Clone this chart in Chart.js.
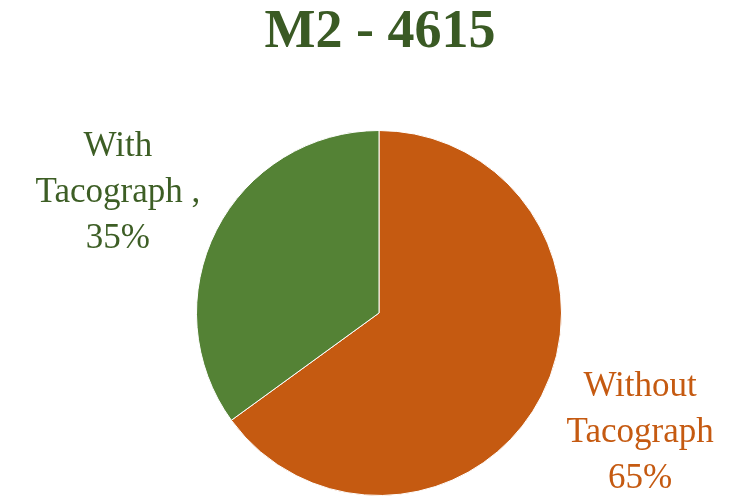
<!DOCTYPE html>
<html>
<head>
<meta charset="utf-8">
<script src="https://cdn.jsdelivr.net/npm/chart.js@4.4.0/dist/chart.umd.min.js"></script>
<style>
  html, body { margin: 0; padding: 0; background: #fff; }
  #wrap { width: 742px; height: 502px; }
</style>
</head>
<body>
<div id="wrap"><canvas id="myChart" width="742" height="502"></canvas></div>
<script>
const chartTitle = 'M2 - 4615';
const categories = ['Without Tacograph', 'With Tacograph'];
const labelLines = [['Without', 'Tacograph', '65%'], ['With', 'Tacograph ,', '35%']];
const shares = [65, 35];
const sliceColors = ['#C55A11', '#548235'];
const textColors = ['#C55A11', '#3D5E25'];

// title and outside labels drawn by hand
const pieText = {
    id: 'pieText',
    afterDraw(chart) {
        const ctx = chart.ctx;
        ctx.save();
        ctx.textAlign = 'center';
        ctx.textBaseline = 'middle';
        ctx.fillStyle = '#3A5A24';
        ctx.font = 'bold 54px "Liberation Serif", serif';
        ctx.fillText(chartTitle, chart.width / 2 + 9, 33);

        const meta = chart.getDatasetMeta(0);
        ctx.font = '35px "Liberation Serif", serif';
        meta.data.forEach((arc, i) => {
            const p = arc.getProps(['x', 'y', 'startAngle', 'endAngle', 'outerRadius'], true);
            const mid = (p.startAngle + p.endAngle) / 2 - 0.04;
            const d = p.outerRadius * 1.575;
            const cx = p.x + Math.cos(mid) * d;
            const cy = p.y + Math.sin(mid) * d;
            const lines = labelLines[i];
            const lh = 46;
            ctx.fillStyle = textColors[i];
            lines.forEach((t, j) => {
                ctx.fillText(t, cx, cy + (j - (lines.length - 1) / 2) * lh);
            });
        });
        ctx.restore();
    }
};

const config = {
    type: 'pie',
    data: {
        labels: categories,
        datasets: [{
            data: shares,
            backgroundColor: sliceColors,
            borderColor: '#ffffff',
            borderWidth: 1
        }]
    },
    options: {
        responsive: false,
        animation: false,
        layout: {
            padding: { top: 130, bottom: 6, left: 16, right: 0 }
        },
        plugins: {
            legend: { display: false },
            title: { display: false },
            tooltip: { enabled: false }
        }
    },
    plugins: [pieText]
};

window.onload = function() {
    const ctx = document.getElementById('myChart').getContext('2d');
    const myChart = new Chart(ctx, config);
};
</script>
</body>
</html>
